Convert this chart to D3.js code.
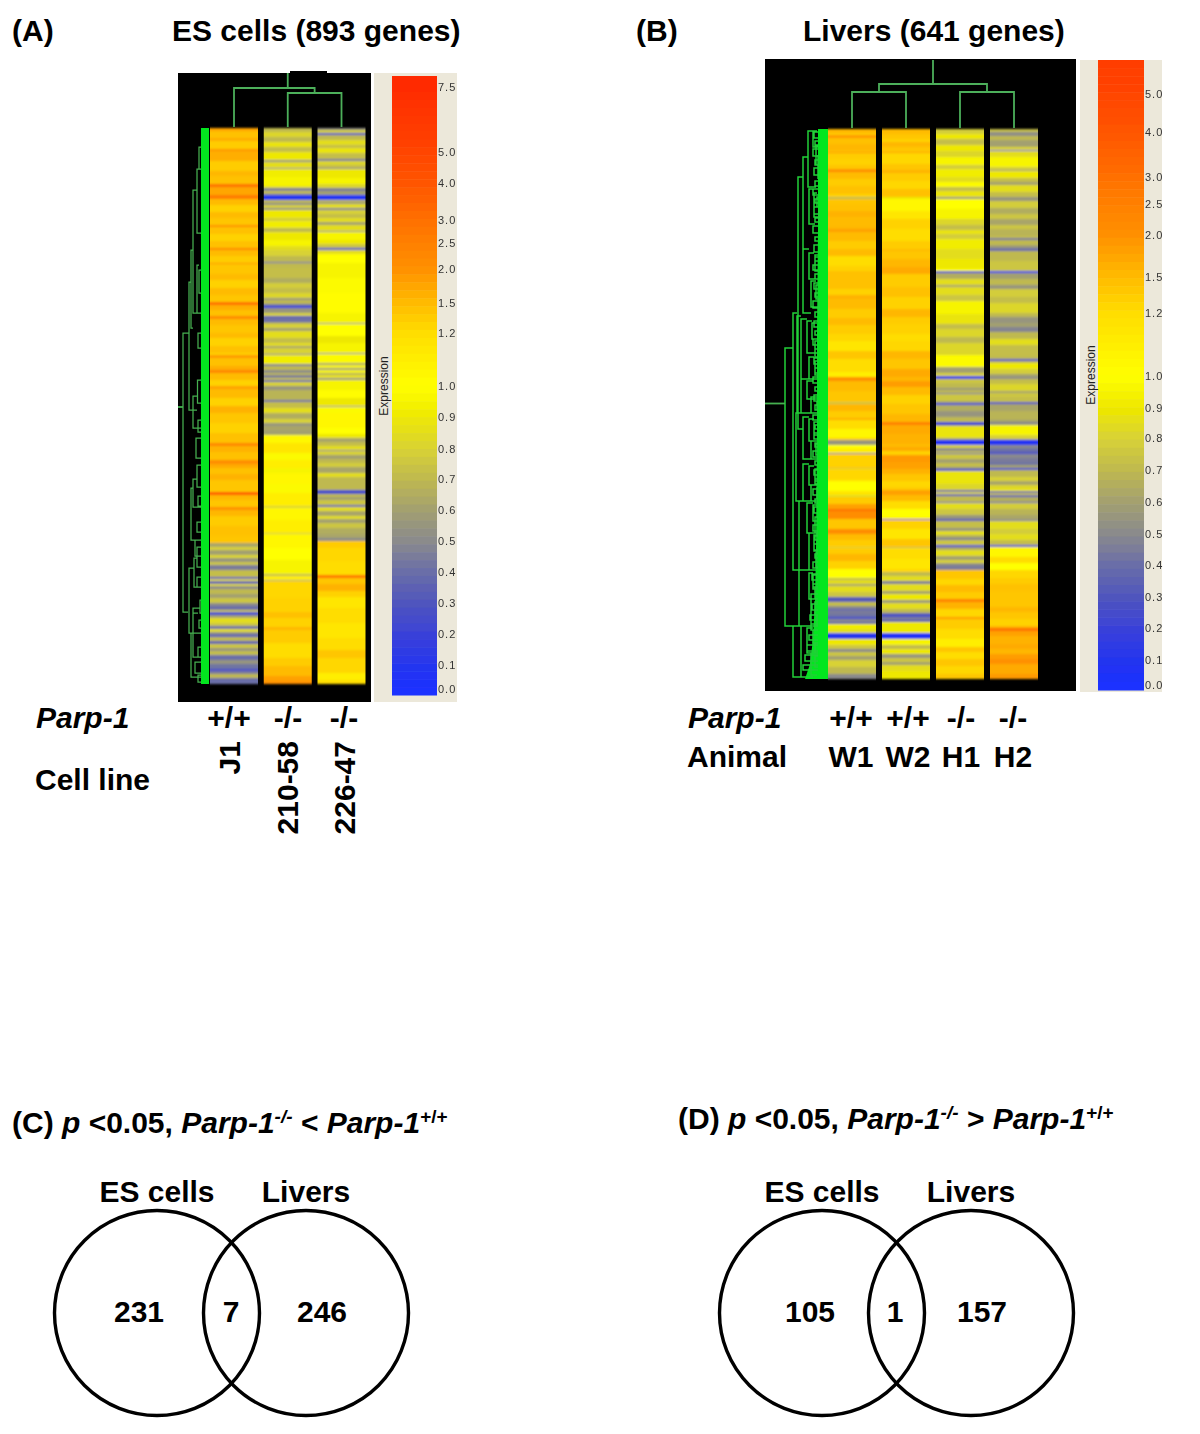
<!DOCTYPE html>
<html><head><meta charset="utf-8">
<style>html,body{margin:0;background:#fff}svg{display:block}text{font-family:"Liberation Sans",Arial,sans-serif;font-weight:700;fill:#000}</style>
<script src="https://cdn.jsdelivr.net/npm/d3@7"></script></head><body><svg id="c" width="1200" height="1434"></svg>
<script>
// ---- heat-map bands: [first gene row, expression]
const esJ1=[[0,1.8],[3,1.45],[10,1.65],[13,1.35],[21,1.95],[23,1.65],[33,1.35],[43,1.55],[48,1.45],[56,3.0],[59,1.75],[67,2.6],[71,1.5],[77,1.3],[84,1.5],[90,1.4],[97,2.0],[99,1.45],[106,1.3],[113,1.45],[120,2.3],[122,1.5],[128,1.35],[135,2.0],[136,1.4],[146,1.5],[152,1.3],[160,1.5],[167,1.4],[174,3.0],[177,1.65],[182,1.45],[188,2.2],[191,1.5],[197,1.4],[205,1.5],[210,1.3],[218,1.45],[225,1.3],[227,1.9],[230,1.45],[238,1.65],[242,2.3],[245,1.5],[252,1.3],[258,1.8],[261,1.5],[270,1.3],[278,1.6],[285,1.4],[295,1.3],[305,1.45],[315,2.3],[318,1.6],[324,1.45],[332,2.1],[336,1.7],[340,1.45],[346,1.6],[352,1.4],[364,3.8],[367,1.55],[372,1.4],[379,2.0],[382,1.55],[388,1.35],[398,1.45],[408,1.4],[415,.62],[419,.8],[422,.6],[427,.82],[430,.55],[434,.75],[437,.45],[442,.72],[449,.3],[451,.85],[453,.35],[456,.85],[458,.5],[461,.7],[466,.6],[470,.75],[475,.5],[478,.4],[482,.75],[484,.22],[487,.6],[490,.85],[495,.75],[498,.4],[501,.85],[504,.5],[507,.3],[509,.7],[513,.35],[516,.75],[520,.55],[523,.72],[527,.4],[532,.55],[536,.42],[541,.25],[543,.45],[546,.7],[550,.4]];
const es21058=[[0,.7],[4,.82],[9,.7],[14,.88],[19,.72],[24,.9],[32,.52],[34,.85],[40,.45],[41,.92],[49,.95],[58,.85],[60,.45],[63,.75],[65,.55],[67,.08],[72,.7],[75,.5],[77,.8],[80,.5],[82,.9],[90,.78],[93,.92],[100,.7],[104,.9],[112,.95],[118,.85],[122,.8],[128,.7],[134,.35],[135,.7],[140,.72],[150,.65],[155,.78],[160,.72],[165,.82],[170,.55],[172,.7],[176,.42],[178,.15],[180,.55],[185,.8],[188,.3],[190,.45],[192,.35],[194,.65],[196,.8],[200,.6],[203,.85],[210,.72],[215,.85],[218,.6],[220,.8],[226,.45],[227,.92],[236,.45],[238,.7],[242,.5],[245,.7],[247,.45],[250,.75],[252,.35],[254,.8],[258,.55],[262,.68],[272,.4],[274,.72],[280,.85],[285,.65],[291,.8],[295,.55],[298,.62],[302,.6],[307,1.0],[308,1.05],[315,1.15],[325,.98],[332,1.1],[340,.95],[345,1.05],[356,.98],[365,1.1],[378,.8],[380,1.05],[392,1.1],[405,.75],[406,1.05],[420,1.0],[432,.95],[446,.7],[448,1.1],[452,.6],[453,1.25],[470,1.3],[484,1.45],[490,1.3],[499,1.55],[502,1.35],[515,1.2],[530,1.35],[538,1.5],[548,1.8],[553,2.0]];
const es22647=[[0,.52],[2,.78],[5,.25],[7,.7],[12,.85],[17,.72],[20,.88],[25,.72],[31,.42],[33,.82],[37,.72],[40,.45],[41,.9],[50,.95],[56,.82],[60,.45],[63,.6],[67,.07],[72,.72],[74,.55],[76,.85],[80,.45],[82,.8],[86,.72],[90,.85],[94,.6],[97,.85],[103,.45],[104,.95],[112,.9],[116,.75],[119,.7],[120,.22],[122,.85],[126,1.0],[135,.95],[150,.98],[165,1.02],[185,.95],[195,.45],[196,1.0],[208,.9],[215,.95],[225,.4],[226,.98],[235,.6],[237,.95],[240,.55],[242,.95],[245,.65],[247,.88],[250,.5],[252,.95],[262,1.02],[270,.9],[278,.5],[279,.98],[285,1.05],[300,1.0],[306,.9],[310,.62],[314,.72],[318,.85],[322,.45],[323,.8],[327,.6],[331,.7],[335,.78],[339,.62],[345,.85],[349,.7],[362,.25],[366,.7],[369,.6],[372,.75],[377,.35],[379,.85],[383,.62],[388,.85],[391,.6],[395,.75],[400,.65],[406,.62],[410,.5],[413,1.35],[420,1.25],[433,1.2],[447,2.8],[450,1.4],[456,1.6],[463,1.3],[469,1.15],[480,1.2],[495,1.15],[510,1.2],[522,1.4],[530,1.25],[545,1.1],[552,1.2]];
const liverW1=[[0,1.55],[4,1.35],[6,1.9],[9,1.45],[15,1.55],[22,1.35],[23,2.1],[24,1.35],[30,1.3],[36,1.4],[40,1.8],[41,2.3],[43,1.5],[50,1.35],[57,1.45],[65,1.3],[68,.7],[70,1.4],[75,1.45],[82,1.6],[88,1.5],[97,1.55],[100,1.8],[103,1.5],[112,1.35],[120,1.5],[127,1.2],[137,1.3],[142,1.45],[152,1.45],[160,1.3],[166,1.6],[170,1.5],[180,1.35],[189,1.5],[196,1.35],[205,1.25],[212,1.15],[222,1.4],[230,1.2],[243,1.1],[248,2.0],[252,1.5],[262,1.4],[273,.75],[275,1.55],[282,1.35],[289,1.65],[291,1.2],[300,1.05],[309,1.3],[311,.55],[316,1.0],[319,1.1],[324,.35],[325,1.3],[338,1.45],[339,.8],[340,1.25],[350,1.2],[352,1.0],[362,1.15],[366,.85],[368,1.35],[375,1.8],[380,3.0],[382,2.1],[390,1.4],[400,2.1],[405,1.5],[411,1.35],[418,.8],[419,1.35],[425,1.55],[432,1.3],[440,1.0],[449,.7],[451,.85],[455,.6],[457,.85],[463,.75],[468,.32],[473,.72],[477,.5],[480,.3],[481,.45],[485,.42],[488,.25],[490,.5],[493,.35],[495,.92],[500,.85],[504,.1],[510,.9],[516,.75],[520,.5],[523,.75],[527,.6],[531,.8],[538,.7],[545,.5]];
const liverW2=[[0,1.5],[5,1.4],[10,1.3],[13,1.55],[18,1.4],[23,1.8],[24,1.25],[35,1.4],[41,1.6],[44,1.35],[52,1.25],[60,1.45],[68,.9],[70,1.05],[82,1.15],[90,1.3],[100,1.2],[112,1.35],[120,1.5],[122,1.4],[130,1.55],[138,1.7],[145,1.35],[158,1.45],[168,1.3],[180,1.55],[188,1.35],[195,1.3],[205,1.2],[212,1.25],[222,1.55],[230,1.4],[240,1.7],[248,1.55],[252,1.85],[258,1.5],[266,1.3],[275,1.4],[285,1.55],[293,2.5],[296,1.7],[305,1.6],[315,1.5],[318,1.7],[322,1.3],[326,1.9],[333,1.8],[340,1.6],[345,1.4],[352,1.25],[358,1.35],[361,1.8],[366,1.5],[372,1.2],[380,1.0],[389,1.25],[390,.15],[391,1.3],[400,1.15],[410,1.4],[418,.7],[419,1.2],[430,1.15],[440,1.25],[443,.7],[447,.85],[452,.45],[455,.85],[462,.6],[465,.9],[471,.55],[474,.85],[480,.7],[484,.35],[486,.25],[488,.45],[491,.3],[493,.9],[504,.05],[510,.95],[516,.7],[520,.9],[525,.55],[529,.75],[533,.6],[536,.85],[542,.9]];
const liverH1=[[0,.78],[5,.9],[10,.72],[16,.9],[22,.82],[28,.95],[36,.78],[40,.92],[48,.85],[53,.98],[58,.72],[62,.88],[68,.52],[70,1.0],[80,.95],[90,.82],[96,.72],[101,.88],[105,.78],[110,.92],[120,.85],[130,.9],[140,1.0],[142,.2],[144,.65],[150,.85],[156,.6],[158,.85],[166,.75],[172,.95],[185,.88],[195,.72],[200,.82],[208,.7],[214,.82],[226,.98],[238,.6],[244,.8],[247,.12],[250,.75],[254,.7],[259,.55],[261,.7],[264,.4],[265,.75],[272,.62],[274,.2],[276,.65],[282,.55],[288,.7],[293,.2],[296,.55],[297,.88],[309,.6],[311,.06],[316,.8],[319,.5],[322,.72],[324,.35],[325,.75],[330,.6],[334,.72],[338,.55],[340,.2],[342,.88],[355,.82],[361,.35],[363,.85],[365,.3],[367,.7],[373,.3],[374,.85],[380,.75],[386,.55],[390,.3],[392,.72],[399,.55],[402,.85],[406,.65],[409,.45],[411,.75],[416,.22],[418,.62],[421,.85],[427,.6],[431,.8],[434,.55],[436,.45],[441,1.4],[450,1.25],[456,1.5],[463,1.35],[470,2.5],[473,1.6],[480,1.25],[488,1.9],[490,1.35],[500,1.2],[510,1.1],[518,1.4],[523,1.2],[530,1.4],[537,1.25],[545,1.4]];
const liverH2=[[0,.72],[3,.52],[7,.7],[11,.6],[18,.82],[21,.2],[22,.85],[28,.95],[38,.78],[41,.55],[42,.9],[49,.72],[53,.6],[56,.85],[63,.72],[68,.55],[72,.78],[79,.65],[85,.75],[90,.62],[96,.75],[100,.68],[107,.72],[109,.42],[111,.7],[116,.6],[118,.5],[120,.35],[122,.7],[132,.75],[142,.1],[144,.6],[150,.7],[156,.55],[160,.78],[168,.72],[174,.82],[184,.7],[188,.55],[194,.6],[198,.48],[203,.7],[210,.85],[216,.72],[227,.7],[230,.25],[232,.7],[234,.9],[240,.78],[245,.6],[248,.5],[250,.72],[255,.82],[262,.6],[264,.75],[268,.72],[273,.25],[275,.62],[282,.68],[291,.6],[293,.5],[296,.95],[306,.8],[310,.55],[311,.06],[316,.5],[319,.42],[322,.35],[324,.2],[325,.5],[329,.45],[333,.42],[336,.6],[339,.22],[341,.7],[348,.8],[352,.62],[356,.82],[360,.9],[362,.35],[364,.75],[366,.32],[368,.65],[373,.3],[374,.78],[380,.68],[386,.62],[391,.35],[392,.85],[400,.78],[405,.85],[411,.72],[416,.2],[418,1.05],[428,1.2],[434,1.0],[441,1.25],[449,1.35],[455,1.45],[462,1.4],[478,1.55],[483,1.4],[490,1.3],[497,1.6],[499,3.0],[502,1.8],[507,1.6],[515,1.7],[520,1.55],[525,1.85],[530,2.0],[535,1.7],[545,1.9]];
// ---- gene dendrograms: [distance, first row, last row, child distance at first, child distance at last]
const esGeneTree=[[18,205,484,12,13],[12,154,282,10,4],[10,122,200,8,8],[8,62,185,4,4],[4,41,105,2,0],[2,19,41,0,0],[4,137,185,2,0],[2,142,165,0,0],[3,205,220,0,0],[3.5,252,275,0,0],[8,268,300,3,0],[3,292,304,0,0],[4,337,359,0,0],[8,351,379,4,0],[4,394,404,0,0],[10,360,412,8,0],[4,419,439,0,0],[7,430,459,4,0],[12,440,505,7,8],[4,449,459,0,0],[8,480,505,1,0],[1,472,485,0,0],[10,505,549,8,0],[8,485,529,3,0],[3,519,529,0,0],[3,547,554,0,0],[5,310,330,0,0],[6,412,428,0,0],[3,368,378,0,0],[2,492,500,0,0],[6,534,545,0,0]];
const liverGeneTree=[[42,219,497,34,34],[34,184,441,30,24],[34,497,548,28,14],[30,187,284,26,26],[29,48,300,24,24],[24,28,120,19,18],[19,2,58,14,11],[14,2,18,10,9],[11,16,36,9,8],[9,26,50,6,5],[18,60,95,13,12],[13,64,88,10,8],[10,68,78,7,5],[8,82,94,6,4],[24,120,184,18,16],[18,124,150,13,10],[12,126,142,8,6],[16,152,178,11,8],[11,156,170,8,6],[8,170,184,6,4],[26,190,250,20,18],[20,192,224,15,12],[15,194,210,10,8],[12,212,228,8,6],[18,228,250,13,10],[12,232,246,8,5],[26,250,284,20,16],[20,252,270,14,10],[16,268,284,10,7],[10,272,281,7,5],[31,284,372,24,24],[24,288,330,18,16],[18,290,312,13,10],[13,293,306,9,6],[16,312,330,11,8],[11,315,326,7,5],[24,335,372,18,16],[18,337,356,13,10],[12,340,352,8,6],[16,356,372,11,8],[10,359,369,7,5],[28,372,441,20,18],[20,374,404,14,12],[14,376,392,10,7],[12,392,404,8,6],[18,404,441,13,11],[13,406,422,9,6],[11,424,438,8,5],[28,441,497,18,16],[18,444,470,14,12],[14,446,458,10,7],[12,458,470,8,5],[16,470,497,12,10],[12,473,486,8,6],[10,486,497,7,4],[26,497,548,20,16],[20,499,524,14,12],[14,501,514,10,7],[12,514,524,8,5],[16,524,546,12,10],[12,527,538,8,6]];
const liverTeeth=[[13,3,9],[12,12,17],[14,20,27],[12,31,36],[13,39,46],[12,52,57],[14,60,66],[12,70,74],[13,78,85],[12,89,93],[14,97,104],[12,108,112],[13,116,123],[12,128,132],[14,136,141],[12,145,150],[13,154,160],[12,164,168],[14,172,179],[12,183,188],[13,192,198],[12,202,206],[14,210,216],[12,220,224],[13,229,235],[12,239,244],[14,248,254],[12,258,262],[13,266,272],[12,276,281],[14,286,291],[12,296,300],[13,304,310],[12,314,318],[14,322,328],[12,332,336],[13,341,346],[12,350,355],[14,360,366],[12,370,374],[13,378,384],[12,388,392],[14,396,402],[12,407,411],[13,415,421],[12,425,429],[14,433,439],[15,445,451],[14,455,460],[16,465,470],[15,475,481],[17,486,491],[16,495,501],[18,506,511],[20,516,522],[22,526,532],[24,536,541]];
const liverGreenDepth=[[0,9],[100,9],[200,10],[300,10],[420,11],[470,12],[510,14],[535,17],[550,22]];
// ---- sample dendrograms: [height, left column, right column, height left, height right]
const esSampleTree=[[39,0,1.5,0,34],[34,1,2,0,0]];
const esSampleRoot=[1,39,54];
const liverSampleTree=[[44,.5,2.5,36,36],[36,0,1,0,0],[36,2,3,0,0]];
const liverSampleRoot=[1.5,44,68];
// ---- legends
const legendValues=[7.5,5,4,3,2.5,2,1.5,1.2,1,.9,.8,.7,.6,.5,.4,.3,.2,.1,0];
const legendLabels=["7.5","5.0","4.0","3.0","2.5","2.0","1.5","1.2","1.0","0.9","0.8","0.7","0.6","0.5","0.4","0.3","0.2","0.1","0.0"];
const legendLabelsB=legendLabels.slice(1);
const legendValuesB=legendValues.slice(1);
const expressionStops=[0,.1,.2,.3,.4,.5,.6,.7,.8,.9,1,1.2,1.5,2,2.5,3,4,5,7.5];
const expressionColors=["#1a30ff","#2535ee","#3a42d8","#5055bd","#6a6ea8","#8a8a8c","#a3a070","#bfb94f","#d8d235","#eee800","#ffff00","#ffdd00","#ffbb00","#ff9000","#ff8000","#ff7000","#ff5500","#ff4500","#ff2a00"];
// ---- Venn counts
const vennC=[231,7,246];
const vennD=[105,1,157];

const svg=d3.select("#c");
const defs=svg.append("defs");
defs.append("filter").attr("id","soft").attr("x","-5%").attr("width","110%").attr("y","-2%").attr("height","104%").append("feGaussianBlur").attr("stdDeviation","0.5 0.85");
defs.append("filter").attr("id","softT").append("feGaussianBlur").attr("stdDeviation","0.35");
const colour=d3.scaleLinear().domain(expressionStops).range(expressionColors).clamp(true);

function heatPanel(o){
  const g=svg.append("g");
  g.append("rect").attr("x",o.bx).attr("y",o.by).attr("width",o.bw).attr("height",o.bh).attr("fill","#000");
  if(o.notch) g.append("rect").attr("x",o.notch[0]).attr("y",o.by-2).attr("width",o.notch[1]).attr("height",3).attr("fill","#000");
  const rows=d3.scaleLinear().domain([0,o.nRows]).range([o.top,o.bottom]);
  const col=d3.scaleLinear().domain([0,o.cols.length-1]).range([o.c0,o.c1]);
  const heat=g.append("g").attr("filter","url(#soft)");
  o.cols.forEach((bands,i)=>{
    heat.append("g").selectAll("rect").data(bands).join("rect")
      .attr("x",col(i)-o.cw/2).attr("width",o.cw)
      .attr("y",d=>rows(d[0]))
      .attr("height",(d,j)=>rows(j+1<bands.length?bands[j+1][0]:o.nRows)-rows(d[0]))
      .attr("fill",d=>colour(d[1]));
  });
  const dist=d3.scaleLinear().domain([0,50]).range([o.barX,o.barX-50]);
  const area=d3.area().y(d=>rows(d[0])).x0(o.barR).x1(d=>dist(d[1])).curve(d3.curveLinear);
  g.append("path").attr("d",area(o.depth)).attr("fill","#03e61f");
  const path=d3.path();
  o.tree.forEach(b=>{
    path.moveTo(dist(b[3]),rows(b[1]));path.lineTo(dist(b[0]),rows(b[1]));
    path.lineTo(dist(b[0]),rows(b[2]));path.lineTo(dist(b[4]),rows(b[2]));
  });
  g.append("path").attr("d",path.toString()).attr("fill","none").attr("stroke",o.treeColor).attr("stroke-width",o.treeWidth);
  g.append("line").attr("x1",o.bx).attr("x2",dist(o.rootD)).attr("y1",o.rootY).attr("y2",o.rootY).attr("stroke",o.rootColor).attr("stroke-width",1.8);
  const h=d3.scaleLinear().domain([0,100]).range([o.top-1,o.top-101]);
  const p2=d3.path();
  o.sample.forEach(b=>{
    p2.moveTo(col(b[1]),h(b[3]));p2.lineTo(col(b[1]),h(b[0]));p2.lineTo(col(b[2]),h(b[0]));p2.lineTo(col(b[2]),h(b[4]));
  });
  p2.moveTo(col(o.root[0]),h(o.root[1]));p2.lineTo(col(o.root[0]),h(o.root[2]));
  g.append("path").attr("d",p2.toString()).attr("fill","none").attr("stroke","#4caf5a").attr("stroke-width",1.8);
  g.append("rect").attr("x",o.lx).attr("y",o.ly).attr("width",o.lw).attr("height",o.lh).attr("fill","#ece8da");
  const yVal=d3.scaleLinear().domain(o.lv).range(o.lp);
  const sy=d3.scaleLinear().domain([0,o.lSteps]).range([o.lb0,o.lb1]);
  const leg=g.append("g").attr("filter","url(#softT)");
  leg.selectAll("rect").data(d3.range(o.lSteps)).join("rect")
    .attr("x",o.lcx).attr("width",o.lcw).attr("y",d=>sy(d)).attr("height",d=>sy(d+1)-sy(d)+.5)
    .attr("fill",d=>colour(yVal.invert((sy(d)+sy(d+1))/2)));
  g.append("g").attr("filter","url(#softT)").selectAll("text").data(o.lv.slice(0,o.ll.length)).join("text")
    .attr("x",o.lcx+o.lcw+1).attr("y",d=>yVal(d)).attr("dy","0.35em")
    .style("font-weight",400).style("font-size",o.lfs+"px").style("letter-spacing","1px").style("fill","#333")
    .text((d,i)=>o.ll[i]);
  g.append("text").attr("transform",`translate(${o.exprX},${o.exprY}) rotate(-90)`).attr("text-anchor","middle")
    .style("font-weight",400).style("font-size","12px").style("fill","#222").text("Expression");
}

heatPanel({bx:178,by:73,bw:193,bh:629,notch:[290,37],top:128,bottom:684,nRows:556,
  cols:[esJ1,es21058,es22647],c0:234,c1:341.5,cw:48,
  barX:201,barR:209,depth:[[0,0],[556,0]],tree:esGeneTree,treeColor:"#46b050",treeWidth:1.25,rootColor:"#46b050",rootD:18,rootY:407,
  sample:esSampleTree,root:esSampleRoot,
  lx:374,ly:73,lw:83,lh:629,lcx:392,lcw:45,lb0:76,lb1:695,lSteps:78,
  lv:legendValues.concat([-.15]),lp:[87,152,183,220,243,269,303,333,386,417,449,479,510,541,572,603,634,665,689,695],ll:legendLabels,lfs:11,exprX:388,exprY:386});
heatPanel({bx:765,by:59,bw:311,bh:632,top:129,bottom:679,nRows:550,
  cols:[liverW1,liverW2,liverH1,liverH2],c0:852,c1:1014,cw:48,
  barX:818,barR:828,depth:liverGreenDepth.map(d=>[d[0],d[1]-9]),
  tree:liverGeneTree.concat(liverTeeth.map(t=>[t[0],t[1],t[2],9,9])).map(b=>[b[0]-9,b[1],b[2],Math.max(b[3]-9,0),Math.max(b[4]-9,0)]),
  treeColor:"#22d038",treeWidth:1.5,rootColor:"#46b050",rootD:33,rootY:403.5,
  sample:liverSampleTree,root:liverSampleRoot,
  lx:1080,ly:60,lw:82,lh:632,lcx:1098,lcw:46,lb0:60,lb1:690,lSteps:78,
  lv:legendValuesB.concat([-.15]),lp:[94,132,177,204,235,277,313,376,408,438,470,502,534,565,597,628,660,685,690],ll:legendLabelsB,lfs:11,exprX:1095,exprY:375});

function label(x,y,t,fs,opts){opts=opts||{};
  const e=svg.append("text").attr("x",x).attr("y",y).style("font-size",fs+"px").text(t);
  if(opts.i)e.style("font-style","italic");if(opts.a)e.attr("text-anchor",opts.a);return e;}
const FS=30;
label(12,41,"(A)",FS);label(172,41,"ES cells (893 genes)",FS);
label(636,41,"(B)",FS);label(803,41,"Livers (641 genes)",FS);
label(36,728,"Parp-1",FS,{i:1});label(35,790,"Cell line",FS);
label(229,728,"+/+",FS,{a:"middle"});label(288,728,"-/-",FS,{a:"middle"});label(344,728,"-/-",FS,{a:"middle"});
[["J1",240,741],["210-58",298,741],["226-47",355,741]].forEach(d=>{
  svg.append("text").attr("transform",`translate(${d[1]},${d[2]}) rotate(-90)`).attr("text-anchor","end").style("font-size",FS+"px").text(d[0]);
});
label(688,728,"Parp-1",FS,{i:1});label(687,767,"Animal",FS);
[["+/+",851],["+/+",908],["-/-",961],["-/-",1013]].forEach(d=>label(d[1],728,d[0],FS,{a:"middle"}));
[["W1",851],["W2",908],["H1",961],["H2",1013]].forEach(d=>label(d[1],767,d[0],FS,{a:"middle"}));

function title(x,y,tag,rel){
  const t=svg.append("text").attr("x",x).attr("y",y).style("font-size",FS+"px");
  t.append("tspan").text(tag+" ");
  t.append("tspan").style("font-style","italic").text("p");
  t.append("tspan").text(" <0.05, ");
  t.append("tspan").style("font-style","italic").text("Parp-1");
  t.append("tspan").style("font-style","italic").style("font-size","19px").attr("dy",-10).text("-/-");
  t.append("tspan").attr("dy",10).text(" "+rel+" ");
  t.append("tspan").style("font-style","italic").text("Parp-1");
  t.append("tspan").style("font-size","19px").attr("dy",-10).text("+/+");
}
title(12,1133,"(C)","<");title(678,1129,"(D)",">");

function venn(cx1,cx2,counts,xs){
  [cx1,cx2].forEach(c=>svg.append("circle").attr("cx",c).attr("cy",1313).attr("r",102.5).attr("fill","none").attr("stroke","#000").attr("stroke-width",3.4));
  label(cx1,1202,"ES cells",FS,{a:"middle"});label(cx2,1202,"Livers",FS,{a:"middle"});
  counts.forEach((c,i)=>label(xs[i],1322,c,FS,{a:"middle"}));
}
venn(157,306,vennC,[139,231,322]);
venn(822,971,vennD,[810,895,982]);
</script></body></html>
